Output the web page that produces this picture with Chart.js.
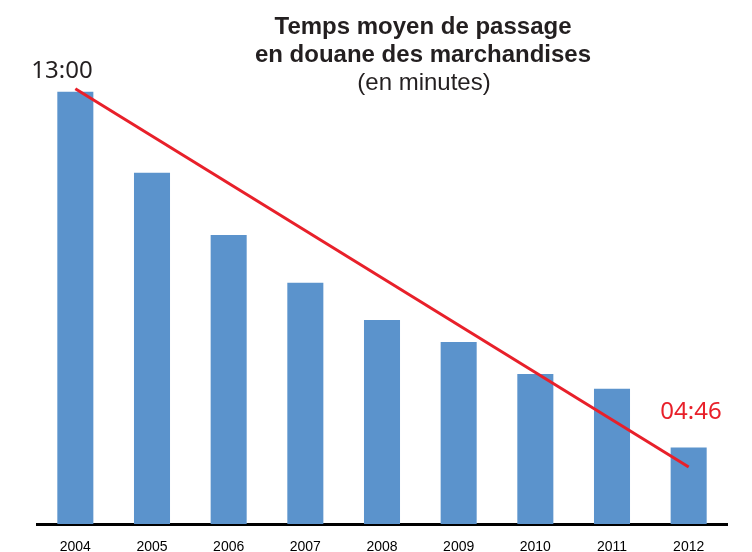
<!DOCTYPE html>
<html>
<head>
<meta charset="utf-8">
<script src="https://cdn.jsdelivr.net/npm/chart.js@4"></script>
<style>
  body { margin: 0; background: #fff; }
  canvas { display: block; }
</style>
</head>
<body>
<canvas id="douane" width="752" height="552"></canvas>
<script>
// Temps moyen de passage en douane (minutes)
const annees = ['2004', '2005', '2006', '2007', '2008', '2009', '2010', '2011', '2012'];
const tempsMoyen = [13.0, 11.13, 9.69, 8.58, 7.72, 7.21, 6.47, 6.13, 4.77];
const tendance = [13.07, null, null, null, null, null, null, null, 4.32];

const titreLignes = ['Temps moyen de passage', 'en douane des marchandises'];
const sousTitre = '(en minutes)';
const labelDebut = '13:00';
const labelFin = '04:46';

const ctxDouane = document.getElementById('douane');

const textesPlugin = {
    id: 'textes',
    afterDraw(chart) {
        const ctx = chart.ctx;
        ctx.save();
        ctx.textAlign = 'center';
        ctx.textBaseline = 'alphabetic';
        ctx.fillStyle = '#231f20';
        ctx.font = 'bold 24px "Liberation Sans", Arial, sans-serif';
        ctx.fillText(titreLignes[0], 423, 34);
        ctx.fillText(titreLignes[1], 423, 62);
        ctx.font = '24px "Liberation Sans", Arial, sans-serif';
        ctx.fillText(sousTitre, 424, 90);

        ctx.font = '24px "Noto Sans", sans-serif';
        ctx.fillStyle = '#231f20';
        ctx.fillText(labelDebut, 62, 78);
        ctx.fillStyle = '#e8202a';
        ctx.fillText(labelFin, 691, 419);
        ctx.restore();
    }
};

const dataDouane = {
    labels: annees,
    datasets: [{
        type: 'line',
        label: 'Tendance',
        data: tendance,
        borderColor: '#e8202a',
        borderWidth: 3,
        pointRadius: 0,
        spanGaps: true,
        order: 0
    }, {
        type: 'bar',
        label: 'Temps moyen',
        data: tempsMoyen,
        backgroundColor: '#5b93cc',
        barPercentage: 0.47,
        categoryPercentage: 1.0,
        order: 1
    }]
};

const configDouane = {
    data: dataDouane,
    plugins: [textesPlugin],
    options: {
        responsive: false,
        animation: false,
        layout: {
            padding: { top: 40, left: 37, right: 25, bottom: -18 }
        },
        plugins: {
            legend: { display: false },
            title: { display: false },
            tooltip: { enabled: false }
        },
        scales: {
            x: {
                grid: { display: false, drawTicks: false },
                border: { display: true, color: '#000', width: 3 },
                ticks: {
                    color: '#000',
                    padding: 16,
                    font: { family: '"Liberation Sans", Arial, sans-serif', size: 14, lineHeight: 1.0 }
                }
            },
            y: {
                display: false,
                min: 3,
                max: 14.2
            }
        }
    }
};

const chartDouane = new Chart(ctxDouane, configDouane);
</script>
</body>
</html>
